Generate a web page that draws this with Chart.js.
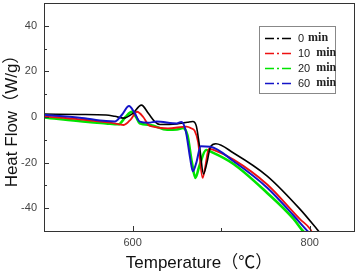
<!DOCTYPE html>
<html>
<head>
<meta charset="utf-8">
<script src="https://cdn.jsdelivr.net/npm/chart.js@4/dist/chart.umd.min.js"></script>
<style>
  html, body { margin: 0; padding: 0; background: #ffffff; }
  #wrap { position: relative; width: 357px; height: 274px; }
</style>
</head>
<body>
<div id="wrap"><canvas id="dsc" width="357" height="274"></canvas></div>
<script>
// DSC curves, heat flow (W/g) against temperature (°C)
const seriesLabels = ['0 min', '10 min', '20 min', '60 min'];
const seriesColors = ['#000000', '#ee1111', '#00e400', '#1414c8'];

const temp0 = [500, 540, 570, 580, 590, 600, 610, 618, 625, 631, 650, 662, 668, 672, 676, 680, 684, 688, 694, 714, 752, 789, 808, 812];
const flow0 = [1.3, 1.1, 0.9, 0.3, -0.5, 1.5, 5.2, 1.5, -2.0, -3.3, -3.0, -2.3, -2.0, -4.0, -14, -25, -20, -13, -11.7, -15.8, -25.9, -40.4, -49.1, -51];

const temp1 = [500, 540, 575, 590, 598, 605, 612, 618, 623, 640, 661, 666, 670, 674, 679, 682, 686, 692, 714, 752, 789, 800.5, 803];
const flow1 = [0.3, -1.0, -2.5, -3.5, -1.0, 2.3, 0.0, -3.5, -4.2, -5.0, -4.2, -4.9, -6.0, -11, -26.7, -22, -14, -14.5, -18.7, -29.6, -44.8, -49.1, -51];

const temp2 = [500, 550, 570, 584, 592, 599, 604, 608, 620, 639, 650, 657, 662, 667, 671, 675, 683, 690, 714, 752, 782, 791, 795];
const flow2 = [-0.2, -2.2, -2.8, -3.2, 0.0, 2.3, 0.0, -2.8, -3.5, -5.6, -5.5, -4.8, -8, -20, -26.7, -22, -14.5, -15.5, -20.6, -33.3, -44.8, -49.4, -51];

const temp3 = [500, 540, 570, 580, 588, 596, 602, 608, 618, 627, 650, 655, 660, 665, 668, 672, 677, 688, 714, 752, 782, 796, 800];
const flow3 = [1.0, -0.3, -1.8, -2.0, 1.0, 4.8, 2.0, -2.0, -2.5, -2.0, -2.8, -2.2, -6, -18, -23.8, -20, -12.8, -13, -19.4, -31, -43.3, -49.4, -51];

const temps = [temp0, temp1, temp2, temp3];
const flows = [flow0, flow1, flow2, flow3];
const lineWidths = [1.6, 1.8, 2.6, 2.0];
const drawOrder = [1, 2, 3, 0];

const xTickLabels = [600, 800];
const yTickLabels = [-40, -20, 0, 20, 40];

// inward tick marks, plot frame and the boxed legend
const framePlugin = {
  id: 'frame',
  afterDraw(chart) {
    const ctx = chart.ctx;
    const area = chart.chartArea;
    const xs = chart.scales.x;
    const ys = chart.scales.y;
    ctx.save();
    ctx.strokeStyle = '#333333';
    ctx.lineWidth = 1;
    ctx.strokeRect(Math.round(area.left) + 0.5, Math.round(area.top) + 0.5,
      Math.round(area.right - area.left), Math.round(area.bottom - area.top));

    ctx.beginPath();
    xs.ticks.forEach(t => {
      const px = Math.round(xs.getPixelForValue(t.value)) + 0.5;
      const len = xTickLabels.includes(t.value) ? 5 : 3;
      ctx.moveTo(px, area.bottom);
      ctx.lineTo(px, area.bottom - len);
    });
    ys.ticks.forEach(t => {
      const py = Math.round(ys.getPixelForValue(t.value)) + 0.5;
      const len = yTickLabels.includes(t.value) ? 5 : 3;
      ctx.moveTo(area.left, py);
      ctx.lineTo(area.left + len, py);
    });
    ctx.stroke();

    // legend box
    const bx = area.left + 215, by = area.top + 23, bw = 76, bh = 67;
    ctx.fillStyle = '#ffffff';
    ctx.fillRect(bx, by, bw, bh);
    ctx.strokeStyle = '#888888';
    ctx.strokeRect(bx + 0.5, by + 0.5, bw, bh);
    chart.data.datasets.forEach((ds, i) => {
      const y = by + 12 + i * 15;
      ctx.strokeStyle = ds.borderColor;
      ctx.lineWidth = 1.6;
      ctx.setLineDash([9, 3, 2, 3]);
      ctx.beginPath();
      ctx.moveTo(bx + 6, y + 0.5);
      ctx.lineTo(bx + 34, y + 0.5);
      ctx.stroke();
      ctx.setLineDash([]);
      const parts = ds.label.split(' ');
      ctx.fillStyle = '#222222';
      ctx.textBaseline = 'middle';
      ctx.textAlign = 'left';
      ctx.font = '11px "Liberation Sans", Arial, sans-serif';
      const nx = bx + 39;
      ctx.fillText(parts[0], nx, y + 1);
      const w = ctx.measureText(parts[0]).width;
      ctx.font = 'bold 12px "Liberation Serif", "DejaVu Serif", serif';
      ctx.fillText(parts[1], nx + w + (parts[0].length > 1 ? 6 : 4), y);
    });
    ctx.restore();
  }
};

const datasets = seriesLabels.map((label, i) => ({
  label: label,
  data: temps[i].map((t, k) => ({ x: t, y: flows[i][k] })),
  borderColor: seriesColors[i],
  backgroundColor: seriesColors[i],
  borderWidth: lineWidths[i],
  pointRadius: 0,
  fill: false,
  cubicInterpolationMode: 'monotone',
  order: drawOrder[i]
}));

const tickFont = { family: '"Liberation Sans", Arial, sans-serif', size: 11 };
const titleFont = { family: '"Liberation Sans", Arial, "Noto Sans CJK SC", sans-serif', size: 17 };

const noEdgePadding = s => {
  s.paddingTop = 0;
  s.paddingBottom = 0;
  s.paddingLeft = 0;
  s.paddingRight = 0;
};

new Chart(document.getElementById('dsc'), {
  type: 'line',
  data: { datasets },
  plugins: [framePlugin],
  options: {
    responsive: false,
    animation: false,
    layout: { padding: { top: 3, right: 3, left: 0, bottom: 0 } },
    plugins: {
      legend: { display: false },
      tooltip: { enabled: false }
    },
    scales: {
      x: {
        type: 'linear',
        min: 500,
        max: 850,
        grid: { display: false, drawTicks: false },
        border: { display: false },
        ticks: {
          stepSize: 100,
          padding: 5,
          color: '#444444',
          font: tickFont,
          maxRotation: 0,
          callback: v => xTickLabels.includes(v) ? String(v) : ''
        },
        title: {
          display: true,
          text: 'Temperature（℃）',
          color: '#111111',
          font: titleFont,
          padding: { top: 0, bottom: 0 }
        },
        afterFit: s => { s.height = 43; noEdgePadding(s); }
      },
      y: {
        min: -50,
        max: 50,
        grid: { display: false, drawTicks: false },
        border: { display: false },
        ticks: {
          stepSize: 10,
          padding: 7,
          color: '#444444',
          font: tickFont,
          callback: v => yTickLabels.includes(v) ? String(v) : ''
        },
        title: {
          display: true,
          text: 'Heat Flow（W/g）',
          color: '#111111',
          font: titleFont,
          padding: { top: 2, bottom: 0 }
        },
        afterFit: s => { s.width = 44; noEdgePadding(s); }
      }
    }
  }
});
</script>
</body>
</html>
